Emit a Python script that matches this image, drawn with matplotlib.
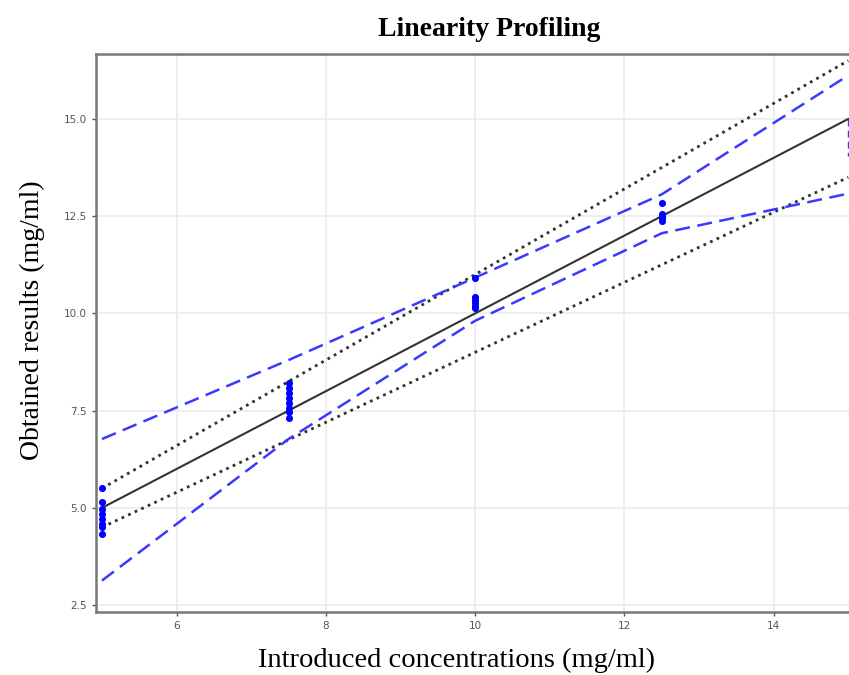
import numpy as np
import matplotlib.pyplot as plt

levels = [5.0, 7.5, 10.0, 12.5, 15.0]
obs_x = [5.0] * 8 + [7.5] * 8 + [10.0] * 6 + [12.5] * 5
obs_y = [5.50, 5.16, 4.97, 4.85, 4.72, 4.59, 4.50, 4.33,
         8.20, 8.07, 7.95, 7.82, 7.69, 7.56, 7.47, 7.30,
         10.92, 10.42, 10.35, 10.28, 10.20, 10.14,
         12.84, 12.56, 12.50, 12.45, 12.38]

# beta-expectation tolerance limits (blue dashed)
tol_upper = [6.77, 8.80, 10.92, 13.06, 16.12]
tol_lower = [3.13, 6.77, 9.81, 12.06, 13.08]
# acceptance limits +/-10% (black dotted)
acc_upper = [1.1 * v for v in levels]
acc_lower = [0.9 * v for v in levels]

fig = plt.figure(figsize=(8.49, 6.75), dpi=100)
ax = fig.add_axes([96 / 849, 1 - 611.7 / 675, (849 - 96) / 849, (611.7 - 54) / 675])

ax.grid(True, color='#ebebeb', linewidth=1.2)
ax.set_axisbelow(True)

ax.plot(levels, levels, color='#333333', lw=1.5, zorder=3)
ax.plot(levels, acc_upper, color='#333333', lw=2, ls=(0, (1, 1.6)), zorder=3)
ax.plot(levels, acc_lower, color='#333333', lw=2, ls=(0, (1, 1.6)), zorder=3)
blue = '#3a3aff'
ax.plot(levels, tol_upper, color=blue, lw=1.8, ls=(0, (6, 3)), zorder=4)
ax.plot(levels, tol_lower, color=blue, lw=1.8, ls=(0, (6, 3)), zorder=4)
ax.plot([15.0, 15.0], [15.0, 14.05], color=blue, lw=1.0, ls=(0, (5, 3)), zorder=4)
ax.scatter(obs_x, obs_y, s=26, color='#0000ff', zorder=5, linewidths=0)

ax.set_xlim(4.92, 15.01)
ax.set_ylim(2.33, 16.67)
ax.set_xticks([6, 8, 10, 12, 14])
ax.set_yticks([2.5, 5.0, 7.5, 10.0, 12.5, 15.0])
ax.set_yticklabels(['2.5', '5.0', '7.5', '10.0', '12.5', '15.0'])
ax.tick_params(colors='#555555', labelsize=7.5, length=3, width=1)

for side in ['left', 'bottom', 'top']:
    ax.spines[side].set_color('#777777')
    ax.spines[side].set_linewidth(1.8)
ax.spines['right'].set_visible(False)

fig.text(489 / 849, 1 - 30 / 675, 'Linearity Profiling', ha='center', va='center',
         fontsize=20, fontweight='bold', family='Liberation Serif')
fig.text(456 / 849, 1 - 660 / 675, 'Introduced concentrations (mg/ml)', ha='center',
         va='center', fontsize=20.5, family='Liberation Serif')
fig.text(32 / 849, 1 - 320 / 675, 'Obtained results (mg/ml)', ha='center', va='center',
         rotation=90, fontsize=20, family='Liberation Serif')

fig.savefig('out.png', dpi=100)
